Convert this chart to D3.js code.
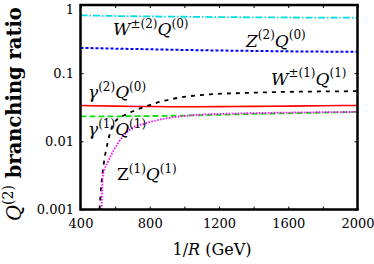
<!DOCTYPE html>
<html>
<head>
<meta charset="utf-8">
<script src="https://cdnjs.cloudflare.com/ajax/libs/d3/7.8.5/d3.min.js"></script>
<style>
  body { margin: 0; background: #fff; }
  text { font-family: "DejaVu Serif", serif; fill: #000; }
</style>
</head>
<body>
<div id="chart"></div>
<script>
// 1/R values (GeV) shared by the flat channels
var energy = [400, 600, 800, 1000, 1200, 1400, 1600, 1800, 2000];
var brW2Q0 = [0.706, 0.69, 0.68, 0.672, 0.665, 0.66, 0.656, 0.653, 0.65];
var brZ2Q0 = [0.235, 0.229, 0.224, 0.219, 0.215, 0.212, 0.209, 0.207, 0.206];
var brG2Q0 = [0.0335, 0.0328, 0.0324, 0.0322, 0.0323, 0.0326, 0.0329, 0.0333, 0.0336];
var brG1Q1 = [0.0233, 0.0233, 0.0235, 0.0239, 0.0245, 0.0252, 0.0258, 0.0264, 0.027];

// channels that open up above threshold
var energyW1Q1 = [510, 520, 533, 558, 597, 674, 752, 858, 962, 1165, 1362, 1554, 1745, 1942, 2000];
var brW1Q1 = [0.001, 0.00225, 0.00444, 0.0098, 0.0192, 0.0255, 0.0309, 0.0379, 0.0434, 0.0491, 0.0513, 0.053, 0.0538, 0.0543, 0.0545];
var energyZ1Q1 = [522, 529, 558, 597, 636, 694, 771, 887, 1003, 1107, 1300, 1500, 1700, 2000];
var brZ1Q1 = [0.001, 0.00316, 0.00496, 0.00781, 0.011, 0.0154, 0.0182, 0.0216, 0.0236, 0.0247, 0.0256, 0.0262, 0.0266, 0.027];

var xTicks = [400, 600, 800, 1000, 1200, 1400, 1600, 1800, 2000];
var xTickLabels = ["400", "", "800", "", "1200", "", "1600", "", "2000"];
var yTicks = [0.001, 0.01, 0.1, 1];
var yTickLabels = ["0.001", "0.01", "0.1", "1"];

(function () {
  var w = 374, h = 264;
  // plot frame (note: "top" clashes with window.top, so px* names)
  var pxLeft = 80.5, pxRight = 357.5, pxTop = 5, pxBottom = 209.5;

  var svg = d3.select("#chart").append("svg")
      .attr("width", w).attr("height", h);

  var x = d3.scaleLinear().domain([400, 2000]).range([pxLeft, pxRight]);
  var y = d3.scaleLog().domain([0.001, 1]).range([pxBottom, pxTop]);

  svg.append("clipPath").attr("id", "plotclip")
      .append("rect")
      .attr("x", pxLeft).attr("y", pxTop)
      .attr("width", pxRight - pxLeft).attr("height", pxBottom - pxTop);

  // axes, ticks pointing inward
  svg.append("g")
      .attr("transform", "translate(0," + pxBottom + ")")
      .call(d3.axisBottom(x).tickValues(xTicks).tickSize(-3).tickPadding(9)
          .tickFormat(function(d, i) { return xTickLabels[i]; }));
  svg.append("g")
      .attr("transform", "translate(0," + pxTop + ")")
      .call(d3.axisTop(x).tickValues(xTicks).tickSize(-3).tickFormat(""));
  var yAxisG = svg.append("g")
      .attr("transform", "translate(" + pxLeft + ",0)")
      .call(d3.axisLeft(y).tickValues(yTicks).tickSize(-3).tickPadding(6.5)
          .tickFormat(function(d, i) { return yTickLabels[i]; }));
  svg.append("g")
      .attr("transform", "translate(" + pxRight + ",0)")
      .call(d3.axisRight(y).tickValues(yTicks).tickSize(-3).tickFormat(""));

  svg.selectAll(".domain").remove();
  svg.selectAll(".tick line").attr("stroke", "#000").attr("stroke-width", 1);
  svg.selectAll(".tick text")
      .attr("font-family", "DejaVu Serif")
      .attr("font-size", "13px")
      .attr("fill", "#000");
  // the "1" sits at the frame edge, push it down so it isn't cut
  yAxisG.selectAll(".tick text").filter(function(d) { return d == 1; })
      .attr("dy", "0.62em");

  // curves
  var line = d3.line()
      .x(function(d) { return x(d[0]); })
      .y(function(d) { return y(d[1]); })
      .curve(d3.curveMonotoneX);

  var series = [
    { xs: energy, ys: brW2Q0, color: "#00dede", dash: "7,2,1.5,2", width: 1.8 },
    { xs: energy, ys: brZ2Q0, color: "#0000ff", dash: "3,2", width: 2 },
    { xs: energy, ys: brG2Q0, color: "#ff0000", dash: null, width: 1.6 },
    { xs: energy, ys: brG1Q1, color: "#11dd11", dash: "6,3", width: 1.8 },
    { xs: energyW1Q1, ys: brW1Q1, color: "#000", dash: "4,5", width: 1.8 },
    { xs: energyZ1Q1, ys: brZ1Q1, color: "#ff00ff", dash: "1.5,1.5", width: 1.8 }
  ];

  svg.append("g").attr("clip-path", "url(#plotclip)")
      .selectAll("path")
      .data(series).enter().append("path")
      .attr("d", function(s) { return line(d3.zip(s.xs, s.ys)); })
      .attr("fill", "none")
      .attr("stroke", function(s) { return s.color; })
      .attr("stroke-width", function(s) { return s.width; })
      .attr("stroke-dasharray", function(s) { return s.dash; });

  // frame
  svg.append("rect")
      .attr("x", pxLeft).attr("y", pxTop)
      .attr("width", pxRight - pxLeft).attr("height", pxBottom - pxTop)
      .attr("fill", "none").attr("stroke", "#000").attr("stroke-width", 2.5);

  // text with superscripts; parts are [text, kind] with kind i / r / b / s
  function mathText(sel, parts, size) {
    var supSize = Math.round(size * 0.7);
    var raised = false;
    parts.forEach(function(p) {
      var t = sel.append("tspan").text(p[0]);
      if (p[1] == "s") {
        t.attr("font-size", supSize + "px");
        if (!raised) { t.attr("dy", -size * 0.42); raised = true; }
      } else {
        t.attr("font-size", size + "px");
        if (raised) { t.attr("dy", size * 0.42); raised = false; }
        if (p[1] == "i") t.attr("font-style", "italic");
        if (p[1] == "b") t.attr("font-weight", "bold");
      }
    });
  }

  var labels = [
    { x: 113, y: 35, parts: [["W", "i"], ["\u00b1(2)", "s"], ["Q", "i"], ["(0)", "s"]] },
    { x: 246, y: 46.5, parts: [["Z", "i"], ["(2)", "s"], ["Q", "i"], ["(0)", "s"]] },
    { x: 271, y: 84.5, parts: [["W", "i"], ["\u00b1(1)", "s"], ["Q", "i"], ["(1)", "s"]] },
    { x: 88, y: 98, parts: [["\u03b3", "i"], ["(2)", "s"], ["Q", "i"], ["(0)", "s"]] },
    { x: 88, y: 135, parts: [["\u03b3", "i"], ["(1)", "s"], ["Q", "i"], ["(1)", "s"]] },
    { x: 117, y: 180, parts: [["Z", "r"], ["(1)", "s"], ["Q", "i"], ["(1)", "s"]] }
  ];

  labels.forEach(function(l) {
    var t = svg.append("text").attr("x", l.x).attr("y", l.y);
    mathText(t, l.parts, 17);
  });

  // axis titles
  var xt = svg.append("text")
      .attr("x", 212).attr("y", 255)
      .attr("text-anchor", "middle");
  mathText(xt, [["1/", "r"], ["R", "i"], [" (GeV)", "r"]], 16);

  var yt = svg.append("text")
      .attr("transform", "translate(21,114) rotate(-90)")
      .attr("text-anchor", "middle");
  mathText(yt, [["Q", "i"], ["(2)", "s"], [" branching ratio", "b"]], 19.5);
})();
</script>
</body>
</html>
